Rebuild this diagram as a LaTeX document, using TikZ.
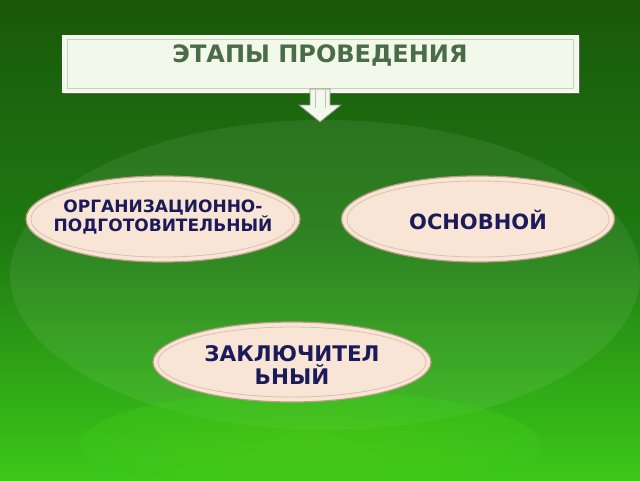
\documentclass[tikz,border=0pt]{standalone}
\usepackage{fontspec}
\setmainfont{DejaVu Sans}
\usetikzlibrary{shapes.geometric}
\definecolor{bgtop}{HTML}{1A580A}
\definecolor{bgmid}{HTML}{1F7A12}
\definecolor{bgbot}{HTML}{3CC81A}
\definecolor{boxfill}{HTML}{F3F9EA}
\definecolor{boxline}{HTML}{C5D3BE}
\definecolor{titletext}{HTML}{4B6C48}
\definecolor{ovfill}{HTML}{F8E5D6}
\definecolor{ovline}{HTML}{B99C84}
\definecolor{ovinner}{HTML}{D9C2AC}
\definecolor{navy}{HTML}{1C1B5A}
\begin{document}
\begin{tikzpicture}[x=1pt,y=-1pt,
  oval/.style={ellipse, fill=ovfill, draw=ovline, line width=1.2pt,
    minimum width=#1, inner sep=0pt},
  ovtext/.style={align=center, text=navy, inner sep=0pt},
  innerov/.style={draw=ovinner, line width=0.8pt}]
\useasboundingbox (0,0) rectangle (640,480);
% background
\shade[top color=bgtop, bottom color=bgbot, middle color=bgmid] (0,0) rectangle (640,480);
\fill[white, opacity=0.07] (325,275) ellipse [x radius=315, y radius=155];
\shade[inner color=bgbot!85!yellow, outer color=bgbot, opacity=0.45] (310,445) ellipse [x radius=230, y radius=55];
% title box
\fill[black!55, opacity=0.6] (64,37) rectangle (580,94);
\node[draw=white, fill=boxfill, line width=1pt, minimum width=516pt, minimum height=57pt, inner sep=0pt] (title) at (320,63.5) {};
\draw[boxline, line width=1pt] (67,39) rectangle (573,88);
\node[font=\bfseries\fontsize{24}{26}\selectfont, text=titletext, inner sep=0pt] (ttext) at (320,55) {ЭТАПЫ ПРОВЕДЕНИЯ};
% arrow
\path[fill=boxfill, draw=black!45, line width=0.8pt]
  (310,89) -- (330,89) -- (330,105) -- (341,105) -- (320,122) -- (299,105) -- (310,105) -- cycle;
\draw[black!25, line width=0.6pt] (315,90) -- (315,108) (325,90) -- (325,108);
% ovals
\node[oval=274pt, minimum height=86pt] (o1) at (163,219) {};
\draw[innerov] (o1.center) ellipse [x radius=132, y radius=38];
\node[ovtext, font=\bfseries\fontsize{17}{18}\selectfont] (o1t) at (163,217) {ОРГАНИЗАЦИОННО-\\ПОДГОТОВИТЕЛЬНЫЙ};
\node[oval=273pt, minimum height=86pt] (o2) at (478,219) {};
\draw[innerov] (o2.center) ellipse [x radius=131, y radius=38];
\node[ovtext, font=\bfseries\fontsize{21}{22}\selectfont] (o2t) at (478,220) {ОСНОВНОЙ};
\node[oval=278pt, minimum height=80pt] (o3) at (292,362) {};
\draw[innerov] (o3.center) ellipse [x radius=134, y radius=35];
\node[ovtext, font=\bfseries\fontsize{21.5}{23}\selectfont] (o3t) at (292,365) {ЗАКЛЮЧИТЕЛ\\ЬНЫЙ};
\end{tikzpicture}
\end{document}
